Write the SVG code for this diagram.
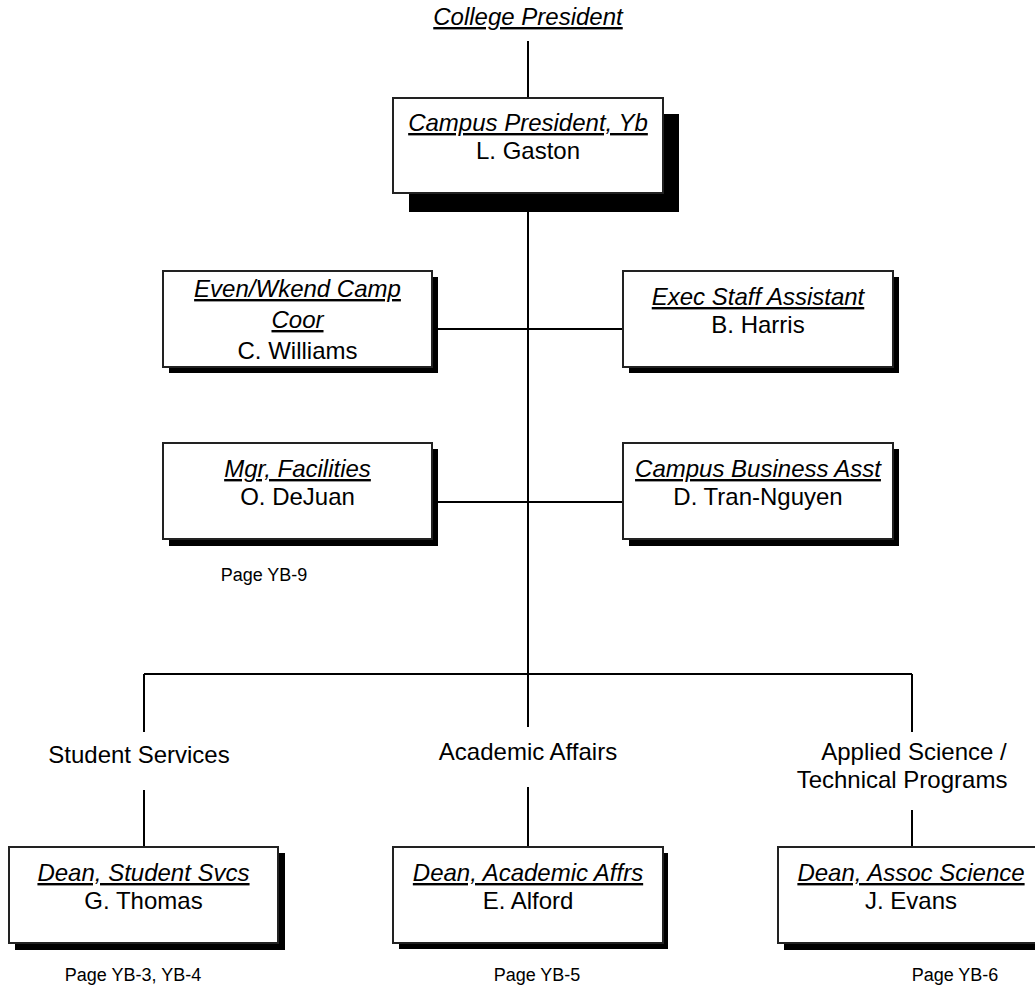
<svg xmlns="http://www.w3.org/2000/svg" width="1035" height="987" viewBox="0 0 1035 987">
<style>
text{font-family:"Liberation Sans",Arial,sans-serif;fill:#000;text-anchor:middle}
.t{font-size:24px;font-style:italic;text-decoration:underline}
.n{font-size:24px}
.p{font-size:18px}
.box{fill:#fff;stroke:#222;stroke-width:2}
.sh{fill:#000}
.ln{stroke:#000;stroke-width:2;fill:none}
</style>
<rect width="1035" height="987" fill="#fff"/>
<g id="connectors">
<line class="ln" x1="528" y1="41" x2="528" y2="98"/>
<line class="ln" x1="528" y1="193" x2="528" y2="727"/>
<line class="ln" x1="432" y1="329" x2="623" y2="329"/>
<line class="ln" x1="432" y1="502" x2="623" y2="502"/>
<line class="ln" x1="144" y1="674" x2="912" y2="674"/>
<line class="ln" x1="144" y1="674" x2="144" y2="732"/>
<line class="ln" x1="912" y1="674" x2="912" y2="732"/>
<line class="ln" x1="144" y1="790" x2="144" y2="847"/>
<line class="ln" x1="528" y1="787" x2="528" y2="847"/>
<line class="ln" x1="912" y1="810" x2="912" y2="847"/>
</g>
<g id="college-president">
<text class="t" x="528" y="25">College President</text>
</g>
<g id="campus-president">
<rect class="sh" x="409" y="114" width="270" height="98"/>
<rect class="box" x="393" y="98" width="270" height="95"/>
<text class="t" x="528" y="131">Campus President, Yb</text>
<text class="n" x="528" y="159">L. Gaston</text>
</g>
<g id="even-wkend">
<rect class="sh" x="169" y="277" width="269" height="96"/>
<rect class="box" x="163" y="271" width="269" height="96"/>
<text class="t" x="297.5" y="297">Even/Wkend Camp</text>
<text class="t" x="297.5" y="328">Coor</text>
<text class="n" x="297.5" y="359">C. Williams</text>
</g>
<g id="exec-staff">
<rect class="sh" x="629" y="277" width="270" height="96"/>
<rect class="box" x="623" y="271" width="270" height="96"/>
<text class="t" x="758" y="305">Exec Staff Assistant</text>
<text class="n" x="758" y="333">B. Harris</text>
</g>
<g id="mgr-facilities">
<rect class="sh" x="169" y="449" width="269" height="97"/>
<rect class="box" x="163" y="443" width="269" height="96"/>
<text class="t" x="297.5" y="477">Mgr, Facilities</text>
<text class="n" x="297.5" y="505">O. DeJuan</text>
<text class="p" x="264" y="581">Page YB-9</text>
</g>
<g id="campus-business">
<rect class="sh" x="629" y="449" width="270" height="97"/>
<rect class="box" x="623" y="443" width="270" height="96"/>
<text class="t" x="758" y="477">Campus Business Asst</text>
<text class="n" x="758" y="505">D. Tran-Nguyen</text>
</g>
<g id="student-services">
<text class="n" x="139" y="763">Student Services</text>
<rect class="sh" x="15" y="853" width="270" height="97"/>
<rect class="box" x="9" y="847" width="269" height="96"/>
<text class="t" x="143.5" y="881">Dean, Student Svcs</text>
<text class="n" x="143.5" y="909">G. Thomas</text>
<text class="p" x="133" y="981">Page YB-3, YB-4</text>
</g>
<g id="academic-affairs">
<text class="n" x="528" y="760">Academic Affairs</text>
<rect class="sh" x="399" y="853" width="269" height="96"/>
<rect class="box" x="393" y="847" width="270" height="96"/>
<text class="t" x="528" y="881">Dean, Academic Affrs</text>
<text class="n" x="528" y="909">E. Alford</text>
<text class="p" x="537" y="981">Page YB-5</text>
</g>
<g id="applied-science">
<text class="n" x="914" y="760">Applied Science /</text>
<text class="n" x="902" y="788">Technical Programs</text>
<rect class="sh" x="784" y="853" width="270" height="97"/>
<rect class="box" x="778" y="847" width="270" height="96"/>
<text class="t" x="911" y="881">Dean, Assoc Science</text>
<text class="n" x="911" y="909">J. Evans</text>
<text class="p" x="955" y="981">Page YB-6</text>
</g>
</svg>
